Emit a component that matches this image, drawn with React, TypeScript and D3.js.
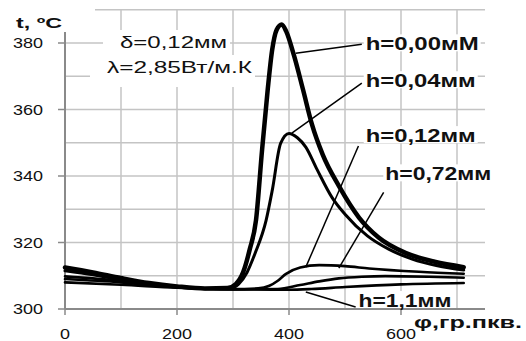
import React from 'react'
import * as d3 from 'd3'

// crank angle (φ, deg) vs temperature (t, °C)
const h000: [number, number][] = [
  [0, 312.5], [50, 311], [100, 309.3], [150, 307.8], [200, 306.8], [250, 306.2], [290, 306.3],
  [305, 307.5], [318, 311], [330, 318], [341, 326.6], [352, 348], [362, 366], [370, 378],
  [378, 384], [387, 385.6], [395, 383.5], [409, 376.2], [425, 366], [441, 355.5], [460, 346.5],
  [489, 337], [525, 327.5], [560, 321.5], [609, 316.8], [660, 314.2], [712, 312.6]
]
const h004: [number, number][] = [
  [0, 311.5], [50, 310.3], [100, 308.8], [150, 307.6], [200, 306.7], [250, 306.1], [295, 306.2],
  [310, 307.5], [325, 311], [340, 317], [359, 326.6], [370, 335.6], [385, 349.8], [400, 352.8],
  [415, 351.5], [430, 348.7], [450, 342], [477, 333.5], [500, 328.5], [540, 322], [578, 318],
  [620, 315], [665, 313], [712, 311.7]
]
const h012: [number, number][] = [
  [0, 309.8], [100, 308.5], [200, 306.7], [300, 306], [345, 306.2], [365, 307], [380, 308.5],
  [394, 310.5], [420, 312.5], [454, 313.2], [500, 312.9], [543, 312.2], [632, 311.2], [712, 310.6]
]
const h072: [number, number][] = [
  [0, 309], [100, 308], [200, 306.5], [300, 305.9], [380, 306], [420, 307.2], [454, 308.3],
  [489, 309.2], [530, 309.7], [572, 309.9], [650, 309.7], [712, 309.4]
]
const h110: [number, number][] = [
  [0, 308], [100, 307.3], [200, 306.4], [300, 305.9], [400, 305.8], [440, 306], [500, 306.6],
  [600, 307.4], [712, 307.8]
]

const seriesData = [h000, h004, h012, h072, h110]
const seriesWidth = [4.5, 3, 2.6, 2.6, 2.6]

const labelText = ['h=0,00мМ', 'h=0,04мм', 'h=0,12мм', 'h=0,72мм', 'h=1,1мм']
const leaderFrom: [number, number][] = [[412, 376.9], [405, 352.9], [430, 312.6], [489, 312.3], [430, 305.1]]
const leaderTo: [number, number][] = [[530, 379.6], [530, 367.9], [524, 349], [569, 335.1], [519, 300.6]]
const labelAt: [number, number][] = [[537, 379.9], [537, 368.8], [537, 352.3], [572, 340.8], [524, 302.7]]
const labelWidth = [113, 110, 110, 106, 93]

const xTicks = [0, 200, 400, 600]
const yTicks = [300, 320, 340, 360, 380]
const xGrid = [100, 200, 300, 400, 500, 600, 700]
const yGrid = [310, 320, 330, 340, 350, 360, 370, 380, 390]

const W = 526
const H = 341
const font = 'Liberation Sans, Arial, sans-serif'
const gridColor = '#c4c4c4'
const axisColor = '#8a8a8a'

export default function App() {
  const x = d3.scaleLinear().domain([0, 750]).range([65, 485])
  const y = d3.scaleLinear().domain([300, 390]).range([309, 9.75])

  const line = d3.line<[number, number]>()
    .x(d => x(d[0]))
    .y(d => y(d[1]))
    .curve(d3.curveMonotoneX)

  return (
    <svg width={W} height={H} style={{ position: 'absolute', left: 0, top: 0, background: '#fff' }}>
      <rect width={W} height={H} fill="#fff" />

      {/* grid */}
      {yGrid.map(v => (
        <line key={'gy' + v} x1={x(0)} x2={x(750)} y1={y(v)} y2={y(v)} stroke={gridColor} strokeWidth={1.5} />
      ))}
      {xGrid.map(v => (
        <line key={'gx' + v} x1={x(v)} x2={x(v)} y1={y(300)} y2={y(390)} stroke={gridColor} strokeWidth={1.5} />
      ))}

      {/* axes */}
      <line x1={x(0)} x2={x(0)} y1={y(300)} y2={y(390)} stroke={axisColor} strokeWidth={2} />
      <line x1={x(0)} x2={x(750)} y1={y(300)} y2={y(300)} stroke={axisColor} strokeWidth={2} />
      {yTicks.map(v => (
        <g key={'yt' + v}>
          <line x1={x(0) - 7} x2={x(0)} y1={y(v)} y2={y(v)} stroke={axisColor} strokeWidth={1.5} />
          <text x={43} y={y(v) + 5} textAnchor="end" fontFamily={font} fontSize={14}
            textLength={30} lengthAdjust="spacingAndGlyphs" fill="#111">{v}</text>
        </g>
      ))}
      {xTicks.map(v => (
        <g key={'xt' + v}>
          <line x1={x(v)} x2={x(v)} y1={y(300)} y2={y(300) + 6} stroke={axisColor} strokeWidth={1.5} />
          <text x={x(v)} y={339} textAnchor="middle" fontFamily={font} fontSize={14}
            textLength={v === 0 ? 10 : 30} lengthAdjust="spacingAndGlyphs" fill="#111">{v}</text>
        </g>
      ))}

      {/* title boxes */}
      <rect x={0} y={0} width={95} height={32} fill="#fff" />
      <text x={16} y={27.5} fontFamily={font} fontSize={15} fontWeight="bold"
        textLength={46} lengthAdjust="spacingAndGlyphs" fill="#111">t, ºC</text>
      <text x={414} y={328} fontFamily={font} fontSize={16} fontWeight="bold"
        textLength={108} lengthAdjust="spacingAndGlyphs" fill="#111">φ,гр.пкв.</text>

      <rect x={103} y={30} width={127} height={25} fill="#fff" />
      <rect x={90} y={55} width={165} height={32} fill="#fff" />
      <text x={120} y={48} fontFamily={font} fontSize={16}
        textLength={107} lengthAdjust="spacingAndGlyphs" fill="#111">δ=0,12мм</text>
      <text x={107} y={73} fontFamily={font} fontSize={16}
        textLength={145} lengthAdjust="spacingAndGlyphs" fill="#111">λ=2,85Вт/м.К</text>

      {/* curves */}
      {seriesData.map((s, i) => (
        <path key={'s' + i} d={line(s) || ''} fill="none" stroke="#000" strokeWidth={seriesWidth[i]}
          strokeLinejoin="round" strokeLinecap="round" />
      ))}

      {/* leaders + labels */}
      {labelText.map((t, i) => (
        <g key={'l' + i}>
          <line x1={x(leaderFrom[i][0])} y1={y(leaderFrom[i][1])} x2={x(leaderTo[i][0])} y2={y(leaderTo[i][1])}
            stroke="#000" strokeWidth={1.5} />
          <rect x={x(labelAt[i][0]) - 2} y={y(labelAt[i][1]) - 9} width={labelWidth[i] + 4} height={17} fill="#fff" />
          <text x={x(labelAt[i][0])} y={y(labelAt[i][1]) + 6.5} fontFamily={font} fontSize={18} fontWeight="bold"
            textLength={labelWidth[i]} lengthAdjust="spacingAndGlyphs" fill="#111">{t}</text>
        </g>
      ))}
    </svg>
  )
}
